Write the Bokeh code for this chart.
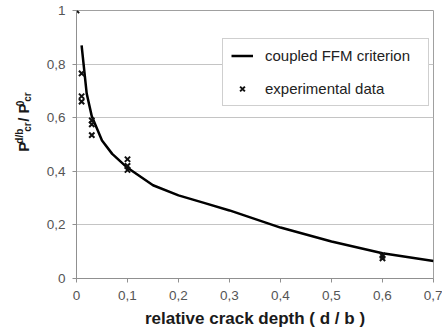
import math
from bokeh.plotting import figure
from bokeh.layouts import row
from bokeh.models import Legend, LegendItem, FixedTicker, Range1d
from bokeh.core.properties import value
from bokeh.embed import file_html
from bokeh.resources import INLINE

# ---- data ----
curve_x = [0.01, 0.02, 0.03, 0.05, 0.07, 0.10, 0.15, 0.20, 0.25, 0.30, 0.40, 0.50, 0.60, 0.70]
curve_y = [0.87, 0.69, 0.605, 0.515, 0.465, 0.413, 0.348, 0.31, 0.282, 0.254, 0.19, 0.138, 0.094, 0.065]

exp_x = [0.0, 0.01, 0.01, 0.01, 0.03, 0.03, 0.03, 0.10, 0.10, 0.10, 0.60, 0.60]
exp_y = [1.0, 0.765, 0.68, 0.66, 0.59, 0.575, 0.535, 0.445, 0.42, 0.405, 0.085, 0.075]

x_ticks = [0, 0.1, 0.2, 0.3, 0.4, 0.5, 0.6, 0.7]
x_tick_labels = ["0", "0,1", "0,2", "0,3", "0,4", "0,5", "0,6", "0,7"]
y_ticks = [0, 0.2, 0.4, 0.6, 0.8, 1.0]
y_tick_labels = ["0", "0,2", "0,4", "0,6", "0,8", "1"]

series_labels = ["coupled FFM criterion", "experimental data"]
x_title = "relative crack depth ( d / b )"

FONT = "Liberation Sans"
TXT = "#1a1a1a"

# ---- main plot ----
p = figure(width=406, height=336, output_backend="svg", toolbar_location=None,
           x_range=Range1d(0, 0.7), y_range=Range1d(0, 1.0),
           min_border_left=40, min_border_right=9, min_border_top=10, min_border_bottom=58)
p.background_fill_color = "white"
p.border_fill_color = "white"
p.outline_line_color = "#a0a0a0"

p.xgrid.visible = False
p.ygrid.grid_line_color = "#c4c4c4"
p.ygrid.grid_line_width = 1

for ax, ticks, labels in ((p.xaxis[0], x_ticks, x_tick_labels), (p.yaxis[0], y_ticks, y_tick_labels)):
    ax.ticker = FixedTicker(ticks=ticks)
    ax.major_label_overrides = {t: l for t, l in zip(ticks, labels)}
    ax.minor_tick_line_color = None
    ax.major_tick_in = 0
    ax.major_tick_out = 4
    ax.axis_line_color = "#909090"
    ax.major_tick_line_color = "#909090"
    ax.major_label_text_font = FONT
    ax.major_label_text_font_size = "13.5px"
    ax.major_label_text_color = "#555555"
p.xaxis.major_label_standoff = 8
p.yaxis.major_label_standoff = 7

p.xaxis.axis_label = x_title
p.xaxis.axis_label_text_font = FONT
p.xaxis.axis_label_text_font_size = "17px"
p.xaxis.axis_label_text_font_style = "bold"
p.xaxis.axis_label_text_color = TXT
p.xaxis.axis_label_standoff = 6

r_line = p.line(curve_x, curve_y, line_color="black", line_width=2.5)
r_pts = p.scatter(exp_x, exp_y, marker="x", size=7.5, line_color="#111111", line_width=2)

legend = Legend(items=[LegendItem(label=series_labels[0], renderers=[r_line]),
                       LegendItem(label=series_labels[1], renderers=[r_pts])],
                location=(146, 172), margin=0, padding=8, spacing=16,
                label_height=17, glyph_height=17, glyph_width=22, label_standoff=12,
                label_width=155,
                label_text_font=FONT, label_text_font_size="15px", label_text_color="#222222",
                border_line_color="#a0a0a0", background_fill_color="white", background_fill_alpha=1)
p.add_layout(legend)

# ---- y axis title (rotated, composed of sub/superscript pieces) ----
yf = figure(width=36, height=336, output_backend="svg", toolbar_location=None,
            x_range=Range1d(0, 36), y_range=Range1d(0, 336),
            x_axis_type=None, y_axis_type=None, min_border=0)
yf.grid.visible = False
yf.outline_line_color = None
yf.background_fill_color = "white"
yf.border_fill_color = "white"

def ypiece(x, y, text, size):
    yf.text(x=[x], y=[y], text=[text], angle=math.pi / 2,
            text_font=value(FONT), text_font_size=size, text_font_style="bold",
            text_color=TXT, text_align="left", text_baseline="alphabetic")

ypiece(22.5, 159, "P", "15px")
ypiece(19, 169, "d/b", "10px")
ypiece(27, 184, "cr", "10px")
ypiece(22.5, 196.5, "/ P", "15px")
ypiece(19, 216, "0", "10px")
ypiece(27, 221.6, "cr", "10px")

layout = row(yf, p, spacing=0)

open("out.html", "w").write(file_html(layout, INLINE))
